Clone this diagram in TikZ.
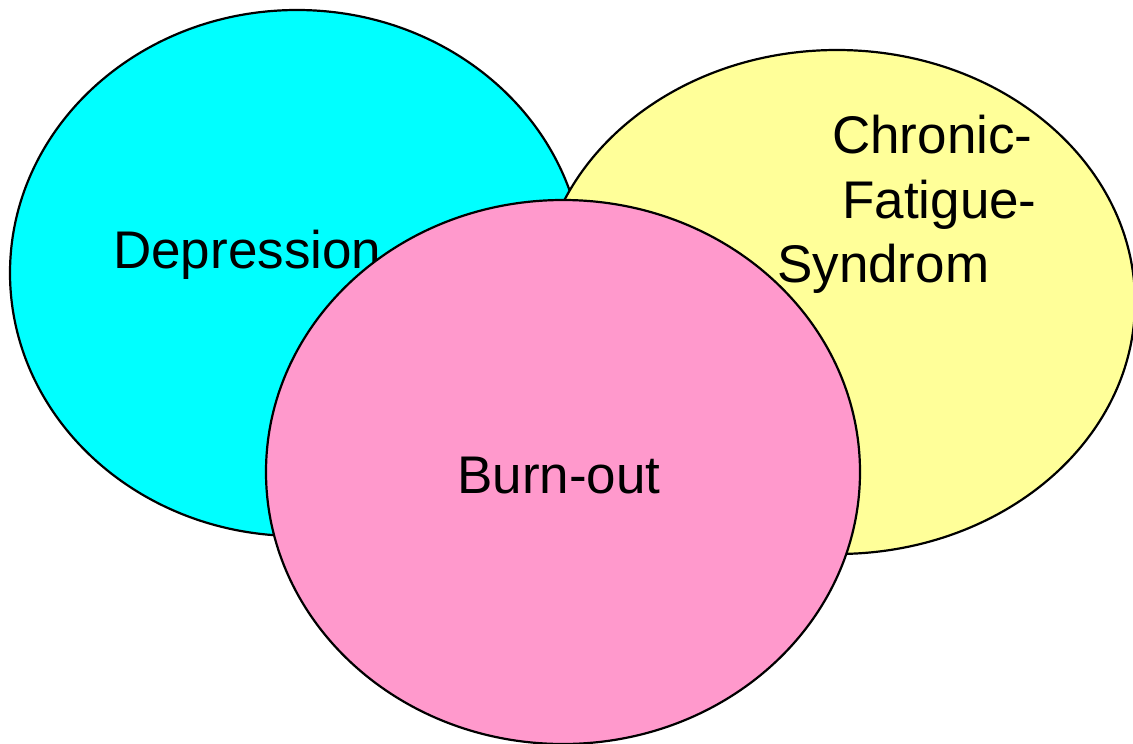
\documentclass[tikz,border=0pt]{standalone}
\usepackage{fontspec}
\setmainfont{Liberation Sans}
\usetikzlibrary{shapes.geometric}
\definecolor{cyanfill}{RGB}{0,255,255}
\definecolor{yellowfill}{RGB}{255,255,153}
\definecolor{pinkfill}{RGB}{255,153,204}
\tikzset{
  blob/.style={ellipse, draw=black, line width=2.2pt, inner sep=0pt},
  lbl/.style={anchor=base west, inner sep=0pt, font=\fontsize{53}{60}\selectfont}
}
\begin{document}
\begin{tikzpicture}[x=1pt,y=-1pt]
\useasboundingbox (0,0) rectangle (1133,744);
\node[blob, fill=cyanfill, minimum width=574pt, minimum height=526pt] (dep) at (297,273) {};
\node[lbl] (deplbl) at (113,268) {Depression};
\node[blob, fill=yellowfill, minimum width=596pt, minimum height=504pt] (cfs) at (837,302) {};
\node[lbl] (cfs1) at (832,153) {Chronic-};
\node[lbl] (cfs2) at (842,218) {Fatigue-};
\node[lbl] (cfs3) at (777,282) {Syndrom};
\node[blob, fill=pinkfill, minimum width=594pt, minimum height=544pt] (bo) at (563,472) {};
\node[lbl] (bolbl) at (457,493) {Burn-out};
\end{tikzpicture}
\end{document}
